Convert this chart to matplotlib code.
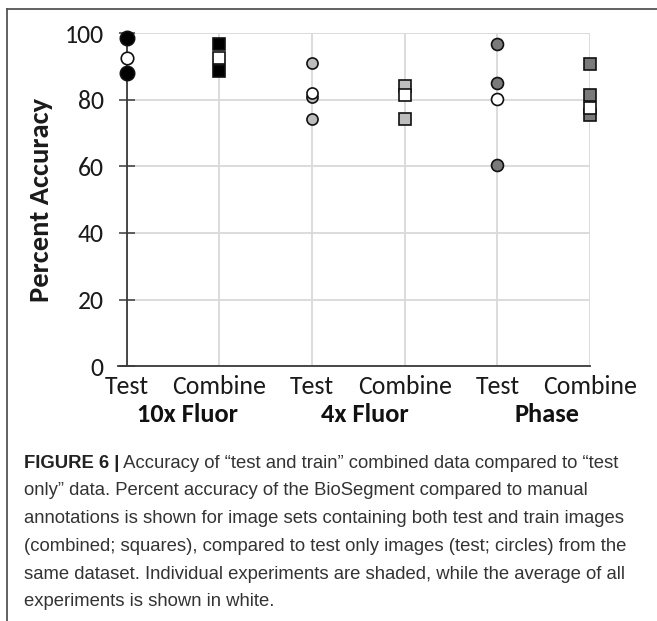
import matplotlib
matplotlib.use("Agg")
import matplotlib.pyplot as plt
from matplotlib import font_manager
from matplotlib.transforms import blended_transform_factory

# ---------------- data ----------------
groups = ["10x Fluor", "4x Fluor", "Phase"]
group_x = [0.66, 2.57, 4.54]
categories = ["Test", "Combine", "Test", "Combine", "Test", "Combine"]
yticks = [0, 20, 40, 60, 80, 100]

# individual experiments (shaded) and averages (white)
test_10x = [98.6, 88.0]
test_10x_avg = [92.7]
comb_10x = [96.8, 88.7]
comb_10x_avg = [92.7]

test_4x = [91.0, 81.0, 74.3]
test_4x_avg = [82.1]
comb_4x = [84.2, 74.3]
comb_4x_avg = [81.6]

test_phase = [96.8, 85.2, 60.5]
test_phase_avg = [80.2]
comb_phase = [90.8, 81.5, 75.5]
comb_phase_avg = [77.6]

caption_lines = [
    " Accuracy of \u201ctest and train\u201d combined data compared to \u201ctest",
    "only\u201d data. Percent accuracy of the BioSegment compared to manual",
    "annotations is shown for image sets containing both test and train images",
    "(combined; squares), compared to test only images (test; circles) from the",
    "same dataset. Individual experiments are shaded, while the average of all",
    "experiments is shown in white.",
]

# ---------------- fonts ----------------
avail = {f.name for f in font_manager.fontManager.ttflist}
def pick(*names):
    for n in names:
        if n in avail:
            return n
    return "DejaVu Sans"
chart_font = pick("Carlito", "Lato", "Open Sans")
cap_font = pick("Liberation Sans", "Roboto")

W, H = 657, 621
fig = plt.figure(figsize=(W / 100, H / 100), dpi=100)

def px_l(x): return x / W
def px_b(y): return 1 - y / H

ax_left, ax_right, ax_top, ax_bot = 126.7, 590.0, 33.5, 366.0
ax = fig.add_axes([px_l(ax_left), px_b(ax_bot), (ax_right - ax_left) / W, (ax_bot - ax_top) / H])

ax.set_xlim(0, len(categories) - 1)
ax.set_ylim(0, 100)

grid_c = "#d9d9d9"
ax.set_xticks(range(len(categories)))
ax.set_xticklabels(categories, fontfamily=chart_font, fontsize=18.5, color="#1a1a1a")
ax.set_yticks(yticks)
ax.set_yticklabels([str(t) for t in yticks], fontfamily=chart_font, fontsize=18.5, color="#1a1a1a")
ax.grid(True, color=grid_c, linewidth=1.3, zorder=0)
ax.set_axisbelow(True)
for s in ["top", "right"]:
    ax.spines[s].set_visible(False)
ax.spines["left"].set_color("#3a3a3a")
ax.spines["left"].set_linewidth(1.3)
ax.spines["bottom"].set_color("#3a3a3a")
ax.spines["bottom"].set_linewidth(1.3)
ax.spines["bottom"].set_bounds(-0.09, len(categories) - 1)
ax.tick_params(axis="y", direction="inout", length=12, width=1.1, color="#3a3a3a", pad=10.5)
ax.tick_params(axis="x", length=0, pad=6.5)

ax.set_ylabel("Percent Accuracy", fontfamily=chart_font, fontsize=20.5, fontweight="bold", color="#1a1a1a")
ax.yaxis.set_label_coords(-0.159, 0.5)

def draw(xpos, vals, marker, fc, ms, z):
    ax.plot([xpos] * len(vals), vals, linestyle="none", marker=marker, markersize=ms,
            markerfacecolor=fc, markeredgecolor="#111111", markeredgewidth=1.2,
            clip_on=False, zorder=z)

black, light, dark = "#000000", "#bdbdbd", "#7a7a7a"
draw(0, test_10x, "o", black, 10.3, 3)
draw(0, test_10x_avg, "o", "white", 9.0, 4)
draw(1, comb_10x, "s", black, 8.2, 3)
draw(1, comb_10x_avg, "s", "white", 8.2, 4)
draw(2, test_4x, "o", light, 8.0, 3)
draw(2, test_4x_avg, "o", "white", 8.0, 4)
draw(3, comb_4x, "s", light, 8.2, 3)
draw(3, comb_4x_avg, "s", "white", 8.2, 4)
draw(4, test_phase, "o", dark, 8.6, 3)
draw(4, test_phase_avg, "o", "white", 8.6, 4)
draw(5, comb_phase, "s", dark, 8.6, 3)
draw(5, comb_phase_avg, "s", "white", 8.6, 4)

# group labels
trans = blended_transform_factory(ax.transData, fig.transFigure)
for gx, g in zip(group_x, groups):
    ax.text(gx, px_b(415), g, transform=trans, ha="center", va="center",
            fontfamily=chart_font, fontsize=19, fontweight="bold", color="#111111")

# caption
cap_x = 24
cap_y0 = 463
cap_dy = 27.8
cap_size = 13.3
fig.canvas.draw()
r = fig.canvas.get_renderer()
for i, line in enumerate(caption_lines):
    y = px_b(cap_y0 + i * cap_dy)
    if i == 0:
        t0 = fig.text(px_l(cap_x), y, "FIGURE 6 |", fontfamily=cap_font, fontsize=cap_size,
                      fontweight="bold", color="#222222", va="center", ha="left")
        bb = t0.get_window_extent(renderer=r)
        fig.text(bb.x1 / W, y, line, fontfamily=cap_font, fontsize=cap_size,
                 color="#333333", va="center", ha="left")
    else:
        fig.text(px_l(cap_x), y, line, fontfamily=cap_font, fontsize=cap_size,
                 color="#333333", va="center", ha="left")

# frame lines (top and left)
fig.add_artist(plt.Line2D([px_l(7), 1.0], [px_b(9), px_b(9)], color="#555555", linewidth=1.3,
                          transform=fig.transFigure))
fig.add_artist(plt.Line2D([px_l(7), px_l(7)], [px_b(9), 0.0], color="#555555", linewidth=1.3,
                          transform=fig.transFigure))

fig.savefig("out.png", dpi=100)
